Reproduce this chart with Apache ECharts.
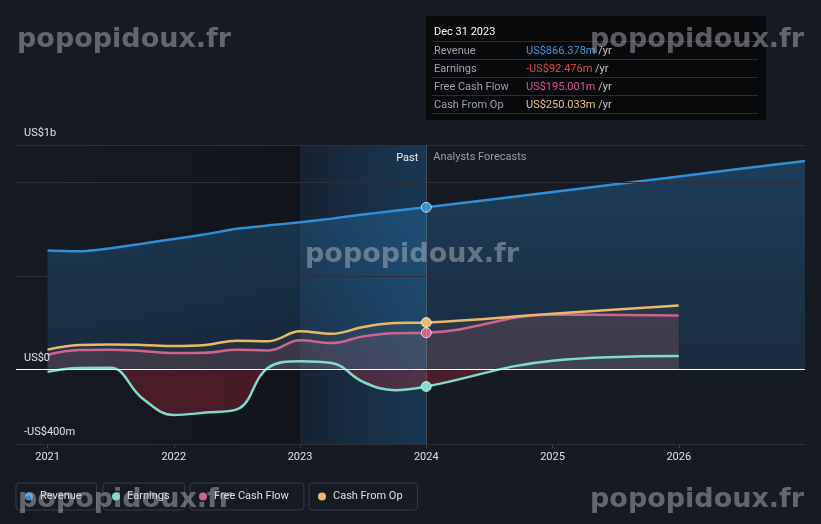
<!DOCTYPE html>
<html lang="en">
<head>
<meta charset="UTF-8">
<title>Revenue and earnings</title>
<script src="https://cdn.jsdelivr.net/npm/echarts@6/dist/echarts.min.js"></script>
<style>
    body { margin: 0; background: #161a23; }
    #wrap { position: relative; width: 821px; height: 524px; }
    #chart { width: 821px; height: 524px; }
    .mark {
        position: absolute;
        font: bold 27px "DejaVu Sans", sans-serif;
        line-height: 30px;
        color: rgba(190, 195, 205, 0.45);
        pointer-events: none;
        z-index: 5;
        white-space: nowrap;
    }
</style>
</head>
<body>
<div id="wrap">
    <div id="chart"></div>
    <div class="mark" style="left:17px;top:23px">popopidoux.fr</div>
    <div class="mark" style="left:590px;top:23px">popopidoux.fr</div>
    <div class="mark" style="left:305px;top:238px">popopidoux.fr</div>
    <div class="mark" style="left:18px;top:483px">popopidoux.fr</div>
    <div class="mark" style="left:590px;top:483px">popopidoux.fr</div>
</div>
<script>
    // past values are trailing twelve months, one per quarter (US$m)
    const pastDates = [2021, 2021.25, 2021.5, 2021.75, 2022, 2022.25, 2022.5, 2022.75, 2023, 2023.25, 2023.5, 2023.75, 2024];
    const revenuePast = [635, 631, 648, 672, 697, 722, 752, 770, 786, 806, 828, 848, 866.378];
    const earningsPast = [-14, 7, 8, -155, -245, -232, -215, 10, 43, 34, -68, -112, -92.476];
    const fcfPast = [78, 103, 105, 98, 87, 88, 104, 101, 155, 140, 176, 193, 195.001];
    const cfoPast = [105, 130, 133, 130, 124, 130, 153, 150, 203, 190, 226, 247, 250.033];

    // analyst forecasts
    const forecastYears = [2025, 2026];
    const revenueForecastYears = [2025, 2026, 2027];
    const revenueForecast = [949, 1032, 1115];
    const earningsForecast = [46, 71];
    const fcfForecast = [293, 288];
    const cfoForecast = [297, 341];

    const xTickYears = [2021, 2022, 2023, 2024, 2025, 2026];
    const yGridValues = [1200, 1000, 500, 0, -400];
    const yGridLabels = ['US$1b', '', '', 'US$0', '-US$400m'];
    const tipDate = 'Dec 31 2023';

    const names = ['Revenue', 'Earnings', 'Free Cash Flow', 'Cash From Op'];
    const lineColors = ['#2f8fd8', '#7fdcc8', '#cf6490', '#e8b86c'];
    const valueColors = ['#3d9be0', '#e0504a', '#d85c8f', '#eec27c'];

    const markIdx = pastDates.length - 1;

    function buildData(past, fYears, forecast, color) {
        let out = pastDates.map((d, i) => {
            if (i === markIdx) {
                return {
                    value: [d, past[i]],
                    symbol: 'circle',
                    symbolSize: 9,
                    itemStyle: { color: color, borderColor: 'rgba(255,255,255,0.75)', borderWidth: 1 }
                };
            }
            return [d, past[i]];
        });
        fYears.forEach((y, i) => out.push([y, forecast[i]]));
        return out;
    }

    const emin = Math.min(0, ...earningsPast, ...earningsForecast);
    const emax = Math.max(0, ...earningsPast, ...earningsForecast);
    const zeroStop = emax / (emax - emin);

    const gridLines = yGridValues.map((v, i) => ({
        yAxis: v,
        lineStyle: { color: v === 0 ? '#ffffff' : '#2a2f39', width: 1, type: 'solid' },
        label: { show: yGridLabels[i] !== '', formatter: yGridLabels[i] }
    }));

    function makeSeries(idx, data, fill, smooth, extra) {
        let s = {
            name: names[idx],
            type: 'line',
            data: data,
            smooth: smooth,
            symbol: 'none',
            showSymbol: true,
            lineStyle: { color: lineColors[idx], width: 2.5 },
            itemStyle: { color: lineColors[idx] },
            areaStyle: { color: fill, origin: 0, opacity: 1 },
            emphasis: { disabled: true },
            animation: false
        };
        return Object.assign(s, extra || {});
    }

    const series = [
        makeSeries(0, buildData(revenuePast, revenueForecastYears, revenueForecast, lineColors[0]),
            new echarts.graphic.LinearGradient(0, 0, 0, 1, [
                { offset: 0, color: 'rgba(46,143,216,0.30)' },
                { offset: 1, color: 'rgba(46,143,216,0.14)' }
            ]), 0.15, {
            markLine: {
                silent: true,
                symbol: ['none', 'none'],
                animation: false,
                label: { position: 'insideStartTop', color: '#e2e2e2', fontSize: 11, fontFamily: 'Roboto', distance: [8, 6] },
                data: gridLines
            },
            markArea: {
                silent: true,
                label: { show: false },
                data: [
                    [{
                        xAxis: 2020.75,
                        itemStyle: {
                            color: new echarts.graphic.LinearGradient(0, 0, 1, 0, [
                                { offset: 0, color: 'rgba(0,0,0,0)' },
                                { offset: 1, color: 'rgba(0,0,0,0.22)' }
                            ])
                        }
                    }, { xAxis: 2023 }],
                    [{
                        xAxis: 2023,
                        name: 'Past',
                        label: { show: true, position: 'insideTopRight', color: '#f0f0f0', fontSize: 11, fontFamily: 'Roboto', distance: 8 },
                        itemStyle: {
                            color: new echarts.graphic.LinearGradient(0, 0, 1, 0, [
                                { offset: 0, color: 'rgba(33,140,220,0.08)' },
                                { offset: 1, color: 'rgba(33,140,220,0.26)' }
                            ])
                        }
                    }, { xAxis: 2024 }],
                    [{
                        xAxis: 2024,
                        name: 'Analysts Forecasts',
                        label: { show: true, position: 'insideTopLeft', color: '#9a9ea6', fontSize: 11, fontFamily: 'Roboto', distance: 7 },
                        itemStyle: { color: 'rgba(0,0,0,0)' }
                    }, { xAxis: 2027 }]
                ]
            }
        }),
        makeSeries(1, buildData(earningsPast, forecastYears, earningsForecast, lineColors[1]),
            new echarts.graphic.LinearGradient(0, 0, 0, 1, [
                { offset: 0, color: 'rgba(127,220,200,0.05)' },
                { offset: zeroStop, color: 'rgba(127,220,200,0.05)' },
                { offset: zeroStop, color: 'rgba(210,40,60,0.28)' },
                { offset: 1, color: 'rgba(210,40,60,0.28)' }
            ]), 0.4),
        makeSeries(2, buildData(fcfPast, forecastYears, fcfForecast, lineColors[2]),
            'rgba(208,102,140,0.14)', 0.4),
        makeSeries(3, buildData(cfoPast, forecastYears, cfoForecast, lineColors[3]),
            'rgba(233,185,110,0.06)', 0.4)
    ];

    const legendLefts = [16, 103, 190, 309];
    const legends = names.map((n, i) => ({
        data: [n],
        left: legendLefts[i],
        top: 483,
        icon: 'circle',
        itemWidth: 12,
        itemHeight: 8,
        padding: [8, 15, 8, 9],
        borderColor: '#353a45',
        borderWidth: 1,
        borderRadius: 3,
        selectedMode: false,
        textStyle: { color: '#e0e0e0', fontSize: 11, fontFamily: 'Roboto' }
    }));

    function fmt(v) {
        let s = 'US$' + Math.abs(v).toFixed(3) + 'm';
        return v < 0 ? '-' + s : s;
    }

    const myChart = echarts.init(document.getElementById('chart'));
    myChart.setOption({
        backgroundColor: '#161a23',
        animation: false,
        grid: { left: 16, right: 16, top: 145, bottom: 80, outerBoundsMode: 'none' },
        legend: legends,
        xAxis: {
            type: 'value',
            min: 2020.75,
            max: 2027,
            splitLine: { show: false },
            axisLine: { show: true, onZero: false, lineStyle: { color: '#3a3f49' } },
            axisTick: { show: true, length: 4, lineStyle: { color: '#3a3f49' }, customValues: xTickYears },
            axisLabel: {
                color: '#e0e0e0', fontSize: 11, fontFamily: 'Roboto', margin: 8,
                customValues: xTickYears,
                formatter: (v) => String(Math.round(v))
            }
        },
        yAxis: {
            type: 'value',
            min: -400,
            max: 1200,
            axisLabel: { show: false },
            axisLine: { show: false },
            axisTick: { show: false },
            splitLine: { show: false }
        },
        tooltip: {
            trigger: 'axis',
            alwaysShowContent: true,
            position: [426, 16],
            backgroundColor: '#08090b',
            borderWidth: 0,
            padding: 0,
            transitionDuration: 0,
            axisPointer: { type: 'line', lineStyle: { color: 'rgba(255,255,255,0.18)', width: 1, type: 'solid' }, label: { show: false } },
            extraCssText: 'box-shadow:none;border-radius:0;z-index:1;',
            formatter: function (params) {
                let h = '<div style="width:326px;padding:6px 8px 6px 6px;font-family:Roboto;font-size:11px;">';
                h += '<div style="height:19px;line-height:19px;padding-left:2px;color:#fff;border-bottom:1px solid #2a2d33;">' + tipDate + '</div>';
                params.forEach(p => {
                    let i = names.indexOf(p.seriesName);
                    h += '<div style="height:17px;line-height:17px;padding-left:2px;border-bottom:1px solid #2a2d33;white-space:nowrap;">' +
                        '<span style="display:inline-block;width:92px;color:#9fa3aa;">' + p.seriesName + '</span>' +
                        '<span style="color:' + valueColors[i] + ';">' + fmt(p.value[1]) + '</span>' +
                        '<span style="color:#c8c8c8;"> /yr</span></div>';
                });
                return h + '</div>';
            }
        },
        series: series
    });

    myChart.dispatchAction({ type: 'showTip', seriesIndex: 0, dataIndex: markIdx });
</script>
</body>
</html>
